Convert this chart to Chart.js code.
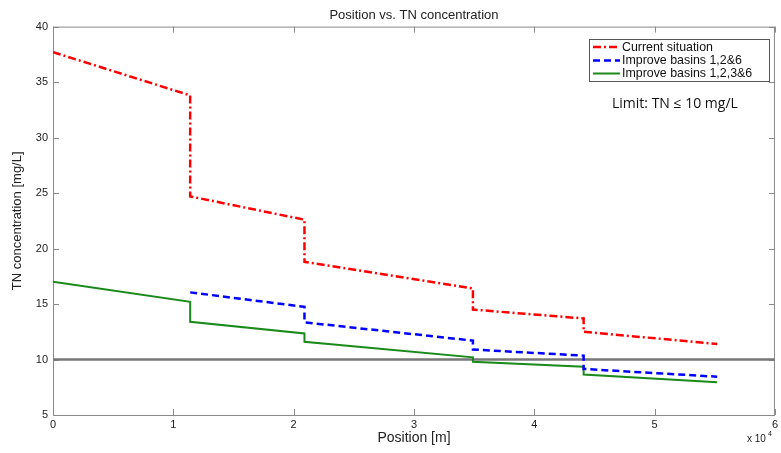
<!DOCTYPE html>
<html>
<head>
<meta charset="utf-8">
<title>Position vs. TN concentration</title>
<script src="https://cdn.jsdelivr.net/npm/chart.js@4.4.0/dist/chart.umd.min.js"></script>
<style>
  html, body { margin: 0; padding: 0; background: #fff; }
  #wrap { width: 781px; height: 453px; }
</style>
</head>
<body>
<div id="wrap"><canvas id="tnChart" width="781" height="453"></canvas></div>
<script>
// reach boundaries along the river [m]; each series jumps at the inner ones
const positions = [0, 11400, 20900, 34900, 44100, 55200];

// TN [mg/L] at the start and the end of each reach
const currentStart = [37.7, 24.7, 18.8, 14.5, 12.5];
const currentEnd = [33.8, 22.6, 16.4, 13.7, 11.4];
const basins126Start = [null, 16.05, 13.35, 10.9, 9.15];
const basins126End = [null, 14.75, 11.7, 10.35, 8.45];
const basins1236Start = [17.0, 13.4, 11.6, 9.8, 8.65];
const basins1236End = [15.2, 12.35, 10.2, 9.35, 7.95];

const tnLimit = 10;
const xTicks = [0, 10000, 20000, 30000, 40000, 50000, 60000];
const yTicks = [5, 10, 15, 20, 25, 30, 35, 40];

const FONT = "'Liberation Sans', Arial, sans-serif";

function reachPoints(starts, ends) {
  const pts = [];
  for (let i = 0; i < starts.length; i++) {
    if (starts[i] === null) continue;
    pts.push({ x: positions[i], y: starts[i] });
    pts.push({ x: positions[i + 1], y: ends[i] });
  }
  return pts;
}

// box around the axes with inward ticks on all four sides
const boxAxes = {
  id: "boxAxes",
  beforeDatasetsDraw(chart) {
    const { ctx, chartArea: a, scales } = chart;
    const len = 6;
    ctx.save();
    ctx.strokeStyle = "#8a8a8a";
    ctx.lineWidth = 1;
    ctx.strokeRect(a.left + 0.5, a.top + 0.5, a.right - a.left - 1, a.bottom - a.top);
    ctx.beginPath();
    xTicks.forEach((v) => {
      const px = Math.round(scales.x.getPixelForValue(v)) + 0.5;
      ctx.moveTo(px, a.bottom); ctx.lineTo(px, a.bottom - len);
      ctx.moveTo(px, a.top); ctx.lineTo(px, a.top + len);
    });
    yTicks.forEach((v) => {
      const py = Math.round(scales.y.getPixelForValue(v)) + 0.5;
      ctx.moveTo(a.left, py); ctx.lineTo(a.left + len, py);
      ctx.moveTo(a.right, py); ctx.lineTo(a.right - len, py);
    });
    ctx.stroke();
    ctx.restore();
  },
  afterDraw(chart) {
    const { ctx, chartArea: a } = chart;
    ctx.save();
    // exponent of the x axis
    ctx.fillStyle = "#222";
    ctx.font = "10px " + FONT;
    ctx.textBaseline = "alphabetic";
    ctx.fillText("x 10", a.right - 28, a.bottom + 27);
    ctx.font = "7px " + FONT;
    ctx.fillText("4", a.right - 7, a.bottom + 21);

    // legend box
    const bx = 589, by = 39, bw = 180, bh = 42;
    ctx.fillStyle = "#fff";
    ctx.fillRect(bx, by, bw, bh);
    ctx.strokeStyle = "#555";
    ctx.lineWidth = 1;
    ctx.strokeRect(bx + 0.5, by + 0.5, bw, bh);
    ctx.font = "12.4px " + FONT;
    ctx.textBaseline = "middle";
    const rows = [47, 60.5, 73.5];
    chart.data.datasets.filter((d) => d.inLegend).forEach((d, i) => {
      ctx.save();
      ctx.strokeStyle = d.borderColor;
      ctx.lineWidth = d.borderWidth;
      ctx.setLineDash(d.borderDash || []);
      ctx.beginPath();
      ctx.moveTo(bx + 4, rows[i]);
      ctx.lineTo(bx + 31, rows[i]);
      ctx.stroke();
      ctx.restore();
      ctx.fillStyle = "#111";
      ctx.fillText(d.label, bx + 33, rows[i] + 0.5);
    });

    ctx.font = "14px 'Open Sans', sans-serif";
    ctx.fillStyle = "#111";
    ctx.fillText("Limit: TN \u2264 10 mg/L", 612, 104);
    ctx.restore();
  },
};

new Chart(document.getElementById("tnChart"), {
  type: "line",
  data: {
    datasets: [
      {
        label: "Current situation",
        data: reachPoints(currentStart, currentEnd),
        borderColor: "#ff0000",
        borderWidth: 2.5,
        borderDash: [8, 3, 2, 3],
        inLegend: true,
      },
      {
        label: "Improve basins 1,2&6",
        data: reachPoints(basins126Start, basins126End),
        borderColor: "#0000ff",
        borderWidth: 2.5,
        borderDash: [7, 4],
        inLegend: true,
      },
      {
        label: "Improve basins 1,2,3&6",
        data: reachPoints(basins1236Start, basins1236End),
        borderColor: "#1a8a1a",
        borderWidth: 2,
        inLegend: true,
      },
      {
        label: "Limit",
        data: [
          { x: xTicks[0], y: tnLimit },
          { x: xTicks[xTicks.length - 1], y: tnLimit },
        ],
        borderColor: "#777777",
        borderWidth: 2.5,
        inLegend: false,
      },
    ],
  },
  options: {
    responsive: false,
    animation: false,
    parsing: false,
    elements: { point: { radius: 0 }, line: { tension: 0 } },
    layout: { padding: { left: 0, right: 4, top: 0, bottom: 0 } },
    plugins: {
      legend: { display: false },
      tooltip: { enabled: false },
      title: {
        display: true,
        fullSize: false,
        text: "Position vs. TN concentration",
        color: "#222",
        font: { family: FONT, size: 13, weight: "normal" },
        padding: { top: 8, bottom: 3 },
      },
    },
    scales: {
      x: {
        type: "linear",
        min: 0,
        max: 60000,
        afterBuildTicks: (s) => { s.ticks = xTicks.map((v) => ({ value: v })); },
        afterFit: (s) => { s.height = 38; },
        grid: { display: false, drawTicks: false },
        border: { display: false },
        ticks: {
          padding: 3,
          color: "#222",
          font: { family: FONT, size: 11 },
          maxRotation: 0,
          callback: (v) => v / 10000,
        },
        title: {
          display: true,
          text: "Position [m]",
          color: "#222",
          font: { family: FONT, size: 14 },
          padding: { top: 1, bottom: 6 },
        },
      },
      y: {
        type: "linear",
        min: 5,
        max: 40,
        afterBuildTicks: (s) => { s.ticks = yTicks.map((v) => ({ value: v })); },
        afterFit: (s) => { s.width = 53; },
        grid: { display: false, drawTicks: false },
        border: { display: false },
        ticks: {
          padding: 5,
          color: "#222",
          font: { family: FONT, size: 11 },
        },
        title: {
          display: true,
          text: "TN concentration [mg/L]",
          color: "#222",
          font: { family: FONT, size: 13 },
          padding: { top: 10, bottom: 2 },
        },
      },
    },
  },
  plugins: [boxAxes],
});
</script>
</body>
</html>
